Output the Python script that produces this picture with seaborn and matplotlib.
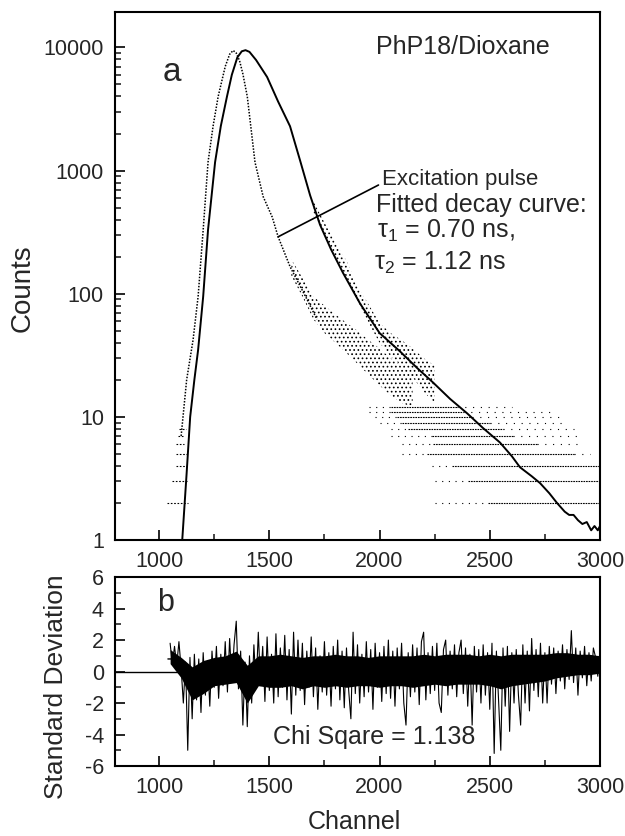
import numpy as np
import matplotlib
import matplotlib.pyplot as plt
import seaborn as sns
from matplotlib.ticker import FixedLocator, NullFormatter, LogLocator, MultipleLocator
matplotlib.use('Agg')

# fitted decay curve (solid line)
fit_ch = [1105, 1125, 1141, 1160, 1177, 1200, 1222, 1254, 1280, 1308, 1330, 1355, 1375, 1392,
          1410, 1440, 1490, 1540, 1594, 1640, 1685, 1730, 1780, 1834, 1912, 2000, 2093, 2170,
          2243, 2320, 2397, 2470, 2546, 2600, 2637, 2690, 2728, 2770, 2805, 2840, 2860, 2880,
          2900, 2920, 2940, 2960, 2975, 2990, 3000]
fit_counts = [1.0, 3.5, 10, 20, 35, 95, 330, 1170, 2300, 4000, 6000, 8300, 9300, 9500,
              9200, 7900, 5750, 3630, 2290, 1200, 630, 363, 229, 148, 83, 48, 34, 25,
              19, 14, 10.7, 8.1, 6.2, 4.8, 3.9, 3.3, 2.9, 2.4, 2.0, 1.7, 1.6, 1.6,
              1.45, 1.35, 1.4, 1.2, 1.3, 1.2, 1.3]

# excitation pulse (dotted data)
pulse_ch = [1100, 1125, 1154, 1177, 1200, 1222, 1245, 1268, 1300, 1320, 1336, 1350, 1365, 1380,
            1400, 1435, 1472, 1513, 1540, 1594, 1640, 1671, 1716]
pulse_counts = [7, 20, 42, 95, 330, 1170, 2300, 4000, 7000, 8800, 9450, 9000, 7800, 6100,
                4000, 1170, 615, 420, 290, 166, 115, 90, 62]

# scatter of the pulse tail
pcloud_ch = [1600, 1650, 1700, 1750, 1800, 1850, 1900, 1950, 2000, 2050, 2100, 2150]
pcloud_lo = [140, 95, 62, 48, 40, 33, 27, 22, 18, 15, 13, 12]
pcloud_hi = [190, 135, 95, 80, 68, 58, 50, 42, 36, 30, 26, 22]

# scatter of the decay data around the fit
dcloud_ch = [1700, 1750, 1800, 1850, 1900, 1950, 2000, 2050, 2100, 2150, 2200, 2250]
dcloud_lo = [430, 290, 200, 135, 85, 58, 40, 31, 26, 21, 16, 13]
dcloud_hi = [560, 380, 260, 185, 115, 82, 58, 48, 42, 36, 30, 26]

# integer count levels in the tail
tail_levels = [2, 3, 4, 5, 6, 7, 8, 9, 10, 11, 12]
tail_sparse_start = [2250, 2250, 2238, 2100, 2100, 2050, 2050, 2000, 1980, 1950, 1950]
tail_dense_start = [2490, 2400, 2330, 2215, 2243, 2240, 2130, 2100, 2080, 2050, 2050]
tail_dense_end = [3000, 3000, 3000, 2880, 2714, 2605, 2560, 2500, 2420, 2380, 2350]
tail_sparse_end = [3000, 3000, 3000, 2955, 2920, 2900, 2880, 2850, 2830, 2800, 2600]

# integer levels before the rise
rise_levels = [2, 3, 4, 5, 6, 7, 8]
rise_start = [1035, 1060, 1075, 1075, 1075, 1085, 1090]
rise_end = [1130, 1130, 1125, 1125, 1115, 1115, 1120]

# residuals
res_flat_ch = [800, 1100]
res_flat = [0.0, 0.0]
res_pre_ch = [1040, 1060, 1100]
res_pre = [0.8, 0.8, 0.0]

band_ch = [1050, 1100, 1150, 1200, 1250, 1300, 1350, 1400, 1450, 1500, 1550, 1600, 1650, 1700,
           1750, 1800, 1850, 1900, 1950, 2000, 2050, 2100, 2150, 2200, 2250, 2300, 2350, 2400,
           2450, 2500, 2550, 2600, 2650, 2700, 2750, 2800, 2850, 2900, 2950, 3000]
band_hi = [1.4, 0.9, 0.3, 0.7, 0.9, 1.0, 1.3, 0.4, 1.0, 1.0, 1.1, 1.0, 0.9, 1.0,
           1.0, 1.1, 1.0, 1.0, 0.9, 1.0, 1.0, 1.0, 1.0, 1.1, 1.0, 1.1, 1.1, 1.1,
           1.0, 1.1, 1.0, 1.1, 1.1, 1.1, 1.1, 1.2, 1.2, 1.1, 1.1, 1.0]
band_lo = [0.5, -0.4, -1.8, -1.4, -0.9, -0.8, -0.7, -2.0, -0.9, -1.0, -1.0, -0.9, -1.1, -0.9,
           -1.0, -0.9, -1.0, -0.9, -0.9, -1.0, -0.9, -0.9, -1.0, -0.9, -0.8, -0.9, -0.8, -0.8,
           -0.8, -0.9, -1.1, -0.9, -0.8, -0.7, -0.6, -0.4, -0.3, -0.2, -0.2, -0.1]

res_ch = list(range(1050, 3001, 10))
res = [1.8, 0.5, 1.6, 0.4, 1.9, 0.2, -2.0, 0.6, -5.0, 0.9,
       -3.0, 1.1, -1.8, 0.8, -2.6, 1.2, -1.5, 0.7, -2.2, 1.3,
       -1.0, 1.6, -1.7, 1.1, -0.9, 1.9, -1.3, 2.1, -0.7, 1.7,
       3.2, -1.1, 1.3, -3.4, 0.6, -3.5, 1.0, -2.0, 1.7, -1.0,
       2.5, -0.8, 1.6, -1.9, 2.2, -1.2, 1.1, -2.0, 2.4, -1.6,
       1.5, -1.0, 2.3, -1.8, 1.4, -2.7, 2.5, -1.5, 2.0, -1.2,
       1.8, -2.1, 1.3, -1.0, 2.2, -1.6, 1.5, -2.4, 1.0, -1.3,
       1.9, -1.5, 1.2, -2.2, 1.6, -1.1, 2.0, -1.8, 1.3, -2.3,
       1.5, -1.2, -3.0, 2.5, -1.4, 1.7, -2.0, 1.1, -1.6, 1.9,
       -1.3, 1.4, -2.4, 1.8, -1.0, 1.2, -1.9, 1.6, -1.4, 2.0,
       -1.7, 1.3, -2.2, 1.5, -1.1, 1.8, -2.0, -3.4, 1.2, -1.6,
       1.7, -1.3, 1.5, -2.1, 1.9, 2.5, -1.8, 1.2, -1.4, 1.6,
       -1.2, 1.8, -2.0, -2.6, 1.4, 2.0, -1.5, 1.3, -1.1, 1.7,
       -1.6, 1.2, 2.0, -1.4, 1.5, -2.2, 1.1, -3.4, 1.6, -1.3,
       1.4, -2.0, 1.7, -1.5, 1.2, -2.4, 1.8, -5.2, 1.3, -1.8,
       -5.0, 1.5, -2.2, 1.6, -3.8, 1.2, -2.0, 1.4, -1.5, -3.4,
       1.7, -2.0, 1.3, -2.5, 2.1, -1.2, 1.4, -1.6, 1.8, -2.0,
       1.2, -2.0, 1.6, -0.8, 1.5, -1.4, 1.3, -0.6, 1.7, -1.1,
       1.4, -0.5, 2.6, -0.7, 1.5, -1.5, 1.3, -0.4, 1.6, -0.9,
       1.2, -0.6, 1.5, 0.9, -0.3, 1.4]

sns.set_style('ticks')
plt.rcParams['font.family'] = ['Liberation Sans', 'DejaVu Sans']
plt.rcParams['mathtext.fontset'] = 'custom'
plt.rcParams['mathtext.rm'] = 'Liberation Sans'
plt.rcParams['mathtext.it'] = 'Liberation Sans'
plt.rcParams['mathtext.default'] = 'regular'
plt.rcParams['axes.unicode_minus'] = False
plt.rcParams['hatch.linewidth'] = 0.7

fig = plt.figure(figsize=(6.25, 8.36), dpi=100)
ax1 = fig.add_axes([0.184, 0.354, 0.776, 0.632])
ax2 = fig.add_axes([0.184, 0.0837, 0.776, 0.226])

# top panel
ax1.set_yscale('log')
ax1.fill_between(pcloud_ch, pcloud_lo, pcloud_hi, facecolor='none', edgecolor='black',
                 hatch='....', linewidth=0)
ax1.fill_between(dcloud_ch, dcloud_lo, dcloud_hi, facecolor='none', edgecolor='black',
                 hatch='....', linewidth=0)
ax1.hlines(tail_levels, tail_sparse_start, tail_dense_start, colors='black',
           linestyles=(0, (1, 5)), linewidth=0.8)
ax1.hlines(tail_levels, tail_dense_start, tail_dense_end, colors='black',
           linestyles=(0, (1.5, 0.8)), linewidth=0.8)
ax1.hlines(tail_levels, tail_dense_end, tail_sparse_end, colors='black',
           linestyles=(0, (1, 6)), linewidth=0.8)
ax1.hlines(rise_levels, rise_start, rise_end, colors='black',
           linestyles=(0, (1.5, 1.5)), linewidth=0.8)
sns.lineplot(x=pulse_ch, y=pulse_counts, ax=ax1, color='black', linestyle=(0, (1, 1)),
             linewidth=1.1, sort=False)
sns.lineplot(x=fit_ch, y=fit_counts, ax=ax1, color='black', linewidth=1.4, sort=False)

ax1.set_xlim(800, 3000)
ax1.set_ylim(1, 19500)
ax1.yaxis.set_major_locator(FixedLocator([1, 10, 100, 1000, 10000]))
ax1.set_yticklabels(['1', '10', '100', '1000', '10000'])
ax1.yaxis.set_minor_locator(LogLocator(base=10, subs=np.arange(2, 10)))
ax1.yaxis.set_minor_formatter(NullFormatter())
ax1.set_ylabel('Counts', fontsize=20)
ax1.yaxis.set_label_coords(-0.163, 0.477)

ax1.text(0.099, 0.885, 'a', transform=ax1.transAxes, fontsize=24, va='center', ha='left')
ax1.text(1985, 10000, 'PhP18/Dioxane', fontsize=18, va='center', ha='left')
ax1.annotate('Excitation pulse', xy=(1540, 290), xytext=(2010, 769), fontsize=16,
             va='baseline', ha='left',
             arrowprops=dict(arrowstyle='-', color='black', lw=1.2, shrinkA=0, shrinkB=0,
                             relpos=(0, 0.3)))
ax1.text(1985, 464, 'Fitted decay curve:', fontsize=18, va='baseline', ha='left')
ax1.text(1990, 282, r'$\tau_1$ = 0.70 ns,', fontsize=18, va='baseline', ha='left')
ax1.text(1975, 156, r'$\tau_2$ = 1.12 ns', fontsize=18, va='baseline', ha='left')

# bottom panel
ax2.fill_between(band_ch, band_lo, band_hi, color='black', linewidth=0)
sns.lineplot(x=res_flat_ch, y=res_flat, ax=ax2, color='black', linewidth=1.0, sort=False)
sns.lineplot(x=res_pre_ch, y=res_pre, ax=ax2, color='black', linewidth=1.0, sort=False)
sns.lineplot(x=res_ch, y=res, ax=ax2, color='black', linewidth=0.8, sort=False)
ax2.set_xlim(800, 3000)
ax2.set_ylim(-6, 6)
ax2.yaxis.set_major_locator(MultipleLocator(2))
ax2.yaxis.set_minor_locator(MultipleLocator(1))
ax2.set_ylabel('Standard Deviation', fontsize=19)
ax2.yaxis.set_label_coords(-0.097, 0.418)
ax2.set_xlabel('Channel', fontsize=18)
ax2.xaxis.set_label_coords(0.494, -0.232)
ax2.text(0.086, 0.862, 'b', transform=ax2.transAxes, fontsize=22, va='center', ha='left')
ax2.text(1517, -4.15, 'Chi Sqare = 1.138', fontsize=18, va='center', ha='left')

for ax in (ax1, ax2):
    ax.xaxis.set_major_locator(FixedLocator([1000, 1500, 2000, 2500, 3000]))
    ax.xaxis.set_minor_locator(FixedLocator([1250, 1750, 2250, 2750]))
    ax.tick_params(which='major', direction='in', length=7, width=1.4, labelsize=15.5,
                   top=False, right=False, pad=8)
    ax.tick_params(which='minor', direction='in', length=4, width=1.2, top=False, right=False)
    for s in ax.spines.values():
        s.set_linewidth(1.5)
        s.set_color('black')
        s.set_visible(True)

fig.savefig('out.png', dpi=100)
plt.close(fig)
